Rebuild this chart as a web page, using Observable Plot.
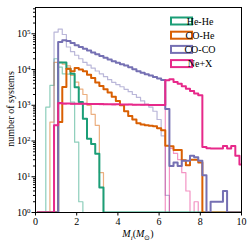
<!DOCTYPE html>
<html><head><meta charset="utf-8">
<script src="https://cdn.jsdelivr.net/npm/d3@7"></script>
<script src="https://cdn.jsdelivr.net/npm/@observablehq/plot@0.6"></script>
<style>
body{margin:0;background:#fff;}
</style></head><body><div id="chart"></div>
<script>
// histogram bins: width 0.2 Msun, edges at 0.1 + 0.2k
const binWidth = 0.2;
const rangeStart = 0.1, rangeEnd = 10.1;
const categories = ["He-He", "CO-He", "CO-CO", "Ne+X"];
const colors = ["#1b9e77", "#d95f02", "#7570b3", "#e7298a"];
const xTicks = [0, 2, 4, 6, 8, 10];
const yMajor = [1, 10, 100, 1000, 10000, 100000];
const yMinorFactors = [2, 3, 4, 5, 6, 7, 8, 9];

// thick (dark) model: first bin edge + counts
const heHeThickStart = 1.1;
const heHeThick = [15800, 15800, 10500, 7600, 3200, 1230, 417, 115, 83, 44, 5];
const coHeThickStart = 1.1;
const coHeThick = [339, 3240, 10500, 8900, 11000, 10000, 8900, 7200, 5750, 4370, 3470, 2820, 2290, 1740, 1320, 1000, 680, 500, 400, 316, 288, 275, 269, 257, 229, 200, 74, 71, 56, 56, 29, 21, 30, 30, 25];
const coCoThickStart = 1.1;
const coCoThick = [58900, 66100, 63100, 55000, 47900, 42700, 38000, 33900, 30200, 26900, 24000, 21400, 19100, 17000, 15500, 14100, 12900, 11500, 10200, 8900, 8100, 7400, 6800, 6200, 5600, 5100, 790, 20, 25, 20, 28, 28, 39, 35, 28, 11, 0, 2, 2, 2, 4];
const neXThickStart = 0.9;
const neXThick = [275, 1150, 1130, 1120, 1110, 1110, 1100, 1100, 1090, 1090, 1080, 1080, 1070, 1070, 1060, 1060, 1050, 1050, 1050, 1040, 1040, 1030, 1030, 1020, 1020, 1020, 1010, 5000, 5370, 4470, 3980, 3390, 2880, 2510, 2140, 1910, 68, 63, 62, 62, 62, 72, 62, 72, 39, 22];

// thin (light) model
const heHeThinStart = 0.5;
const heHeThin = [890, 3600, 20000, 11700, 7600, 7400, 1230, 93, 2];
const coHeThinStart = 0.7;
const coHeThin = [339, 15800, 15800, 14100, 12600, 6900, 4470, 2820, 2000, 1000, 560, 275, 13];
const coCoThinStart = 0.9;
const coCoThin = [112000, 135000, 95500, 42700, 31600, 25100, 20000, 15800, 13200, 11000, 9100, 7600, 6300, 5200, 4400, 3800, 3300, 2800, 2400, 2000, 1660, 1320, 1070, 890, 680, 400, 140, 3];
const neXThinStart = 0.9;
const neXThin = [275, 1100, 1080, 1120, 1060, 1090, 1070, 1100, 1050, 1080, 1060, 1040, 1080, 1050, 1030, 1070, 1040, 1020, 1060, 1030, 1050, 1010, 1040, 1000, 1030, 1000, 1010, 0, 62, 45, 30, 13, 4, 0, 2];

const yFloor = 1, yTop = 5.44e5;

function steps(start, counts) {
  const pts = [{x: rangeStart, y: yFloor}, {x: start, y: yFloor}];
  counts.forEach((c, k) => {
    const x0 = start + k * binWidth, x1 = x0 + binWidth;
    const y = c > yFloor ? c : yFloor;
    pts.push({x: x0, y}, {x: x1, y});
  });
  pts.push({x: start + counts.length * binWidth, y: yFloor}, {x: rangeEnd, y: yFloor});
  return pts;
}

const thin = [[heHeThinStart, heHeThin], [coHeThinStart, coHeThin], [coCoThinStart, coCoThin], [neXThinStart, neXThin]];
const thick = [[heHeThickStart, heHeThick], [coHeThickStart, coHeThick], [coCoThickStart, coCoThick], [neXThickStart, neXThick]];

const marks = [];
thin.forEach(([s, c], i) => marks.push(Plot.line(steps(s, c), {x: "x", y: "y", stroke: colors[i], strokeWidth: 1.2, strokeOpacity: 0.5, clip: true})));
thick.forEach(([s, c], i) => marks.push(Plot.line(steps(s, c), {x: "x", y: "y", stroke: colors[i], strokeWidth: 2, clip: true})));

const yMinor = [];
for (let p = 0; p <= 5; p++) for (const f of yMinorFactors) { const v = f * 10 ** p; if (v <= yTop) yMinor.push(v); }

const plot = Plot.plot({
  width: 249, height: 244,
  marginLeft: 35, marginRight: 8, marginTop: 7, marginBottom: 32,
  style: {fontFamily: "'Liberation Serif', serif", fontSize: "10px", background: "white", color: "black"},
  x: {domain: [0, 10]},
  y: {type: "log", domain: [yFloor, yTop]},
  marks: [
    ...marks,
    Plot.frame({stroke: "black", strokeWidth: 1}),
    Plot.axisX({ticks: xTicks, tickSize: 3.5, tickPadding: 2, label: null, tickFormat: d => String(d), fontSize: 10}),
    Plot.axisY({ticks: yMajor, tickSize: 3.5, tickPadding: 1.5, label: null, tickFormat: d => "10^" + Math.round(Math.log10(d)), fontSize: 10}),
    Plot.axisY({ticks: yMinor, tickSize: 2, label: null, tickFormat: () => ""})
  ]
});

document.getElementById("chart").appendChild(plot);
const svg = d3.select(plot);
svg.style("font-family", "'Liberation Serif', serif");

// superscript exponents on y tick labels
svg.selectAll("text").each(function() {
  const t = d3.select(this);
  const s = t.text();
  const m = /^10\^(\d+)$/.exec(s);
  if (m) {
    t.text("10");
    t.append("tspan").attr("dy", "-0.45em").attr("font-size", "7px").text(m[1]);
  }
});

// y-axis title
svg.append("text")
  .attr("transform", "translate(14,109) rotate(-90)")
  .attr("text-anchor", "middle")
  .attr("font-size", 10)
  .attr("fill", "black")
  .text("number of systems");

// x-axis title: M_i(M_sun)
const xt = svg.append("text")
  .attr("x", 138).attr("y", 237)
  .attr("text-anchor", "middle")
  .attr("font-size", 10)
  .attr("fill", "black");
xt.append("tspan").attr("font-style", "italic").text("M");
xt.append("tspan").attr("font-style", "italic").attr("font-size", "7px").attr("dy", 2.5).text("i");
xt.append("tspan").attr("dy", -2.5).text("(");
xt.append("tspan").attr("font-style", "italic").text("M");
xt.append("tspan").attr("font-size", "7px").attr("dy", 2.5).text("⊙");
xt.append("tspan").attr("dy", -2.5).text(")");

// legend
const lg = svg.append("g");
categories.forEach((name, i) => {
  const y = 21 + i * 14.2;
  lg.append("rect").attr("x", 171).attr("y", y - 3.5).attr("width", 21).attr("height", 7)
    .attr("fill", "none").attr("stroke", colors[i]).attr("stroke-width", 2);
  lg.append("text").attr("x", 200).attr("y", y + 3.5).attr("font-size", 10).attr("fill", "black").text(name);
});
</script>
</body></html>
